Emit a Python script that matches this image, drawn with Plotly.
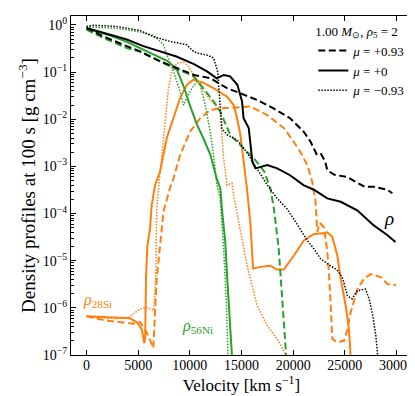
import plotly.graph_objects as go

# velocities in km/s, densities in g cm^-3
# total density rho
v_tot_p = [0, 1600, 3900, 5200, 7100, 9100, 10400, 12000, 13000, 13600, 14900, 16500, 18100, 19700,
           21000, 21700, 22300, 22700, 23100, 23300, 24000, 25200, 26900, 27800, 29100, 29600]
rho_tot_p = [0.861, 0.575, 0.355, 0.275, 0.170, 0.112, 0.0871, 0.0741, 0.0562, 0.0457, 0.0355, 0.0257,
             0.0170, 0.0105, 5.5e-3, 3.3e-3, 1.74e-3, 1.82e-3, 1.26e-3, 8.3e-4, 6.6e-4, 6.0e-4,
             3.7e-4, 3.7e-4, 3.2e-4, 2.7e-4]

v_tot_0 = [0, 1600, 3900, 5500, 7100, 8700, 10400, 11700, 12600, 13300, 13900, 14600, 15050, 15200,
           15700, 15900, 16050, 16350, 17500, 18450, 19700, 21000, 22000, 23300, 24600, 26200, 27800,
           29100, 29900]
rho_tot_0 = [0.861, 0.676, 0.490, 0.355, 0.275, 0.214, 0.148, 0.102, 0.0741, 0.0871, 0.0813, 0.0537,
             0.0240, 0.0105, 6.5e-3, 2.8e-3, 1.26e-3, 9.1e-4, 1.07e-3, 9.1e-4, 6.5e-4, 4.0e-4, 3.2e-4,
             2.1e-4, 1.78e-4, 1.17e-4, 5.6e-5, 3.5e-5, 2.5e-5]

v_tot_m = [0, 700, 2900, 5200, 6500, 8100, 9700, 10400, 11000, 11700, 12300, 12700, 12900, 13100,
           13600, 14600, 15500, 16500, 17500, 18450, 19400, 20300, 21360, 22000, 22650, 23300, 24300,
           24800, 25250, 25700, 26200, 27000, 27350, 27700, 28000, 28200]
rho_tot_m = [0.933, 0.986, 0.933, 0.759, 0.562, 0.447, 0.380, 0.269, 0.245, 0.229, 0.200, 0.100,
             0.0251, 6.3e-3, 4.7e-3, 3.6e-3, 2.0e-3, 9.1e-4, 4.0e-4, 2.1e-4, 1.26e-4, 6.3e-5, 2.7e-5,
             1.8e-5, 1.1e-5, 8.7e-6, 6.2e-6, 4.2e-6, 1.8e-6, 1.55e-6, 2.3e-6, 2.5e-6, 1.55e-6, 6.9e-7,
             2.6e-7, 8.9e-8]

# 56Ni
v_ni_p = [0, 1600, 3900, 5200, 7100, 8400, 9700, 10400, 11300, 12300, 12950, 13900, 15200, 16200,
          17200, 17800, 18130, 18600, 18940, 19260, 19350]
rho_ni_p = [0.794, 0.537, 0.324, 0.269, 0.170, 0.123, 0.0955, 0.0794, 0.0457, 0.0240, 0.0145, 4.7e-3,
            2.4e-3, 1.48e-3, 7.8e-4, 3.4e-4, 1.29e-4, 1.82e-5, 1.55e-6, 1.58e-7, 7.9e-8]

v_ni_0 = [0, 2250, 3900, 5800, 7800, 8700, 9400, 10000, 10700, 11300, 12000, 12600, 12950, 13100,
          13430, 13600, 13760, 13900, 14100]
rho_ni_0 = [0.832, 0.603, 0.437, 0.282, 0.174, 0.120, 0.0501, 0.0200, 7.6e-3, 4.0e-3, 1.74e-3, 5.5e-4,
            3.4e-4, 1.26e-4, 2.5e-5, 5.0e-6, 1.55e-6, 5.0e-7, 7.9e-8]

v_ni_m = [0, 2900, 5200, 6500, 6800, 7450, 7770, 8420, 9060, 9390, 9710, 10200, 10680, 11000, 11490,
          11970, 12300, 12620, 12940, 13270, 13520, 13660, 13700]
rho_ni_m = [0.912, 0.851, 0.708, 0.603, 0.525, 0.380, 0.234, 0.102, 0.0389, 0.0200, 0.0282, 0.0457,
            0.0631, 0.0537, 0.0200, 5.5e-3, 1.74e-3, 4.0e-4, 2.1e-4, 1.82e-5, 1.55e-6, 1.0e-7, 7.9e-8]

# 28Si
v_si_p = [0, 1900, 4500, 5180, 5830, 6310, 6470, 6630, 6800, 6960, 7120, 7450, 8090, 8420, 9060,
          10030, 11000, 11970, 12940, 14570, 15860, 17480, 19100, 20070, 20710, 21360, 21850, 22170,
          22330, 22600, 23000, 23300, 23460, 23630, 23790, 24270, 24920, 25250, 25570, 26220, 26870,
          27510, 28480, 29130, 29940]
rho_si_p = [6.6e-7, 5.4e-7, 4.6e-7, 5.0e-7, 3.0e-7, 1.58e-7, 1.41e-7, 8.1e-7, 4.2e-6, 9.3e-6, 2.1e-5,
            1.1e-4, 3.55e-4, 5.6e-4, 1.74e-3, 5.5e-3, 0.0105, 0.0158, 0.0170, 0.0178, 0.0186, 0.0123,
            6.5e-3, 3.3e-3, 2.0e-3, 1.07e-3, 4.7e-4, 1.78e-4, 4.1e-5, 6.3e-5, 5.0e-5, 1.58e-5, 5.8e-6,
            1.12e-6, 2.2e-7, 1.86e-7, 2.0e-7, 3.5e-7, 8.1e-7, 2.5e-6, 4.2e-6, 5.2e-6, 4.5e-6, 3.2e-6,
            3.0e-6]

v_si_0 = [0, 1900, 4200, 4850, 5340, 5600, 5680, 5760, 5890, 6150, 6310, 6630, 7120, 7770, 8420, 9060,
          9710, 10360, 11330, 12300, 13270, 13600, 14240, 14570, 14890, 15210, 15540, 15860, 16120,
          16830, 17800, 18450, 19100, 20070, 21040, 22010, 22980, 23300, 23790, 24270, 24600, 25080,
          25400, 25570]
rho_si_0 = [6.6e-7, 6.3e-7, 6.0e-7, 5.0e-7, 3.55e-7, 1.78e-7, 2.5e-7, 4.2e-6, 2.1e-5, 4.8e-5, 1.51e-4,
            4.0e-4, 7.8e-4, 4.0e-3, 0.0105, 0.0282, 0.0537, 0.0692, 0.0589, 0.0457, 0.0331, 0.0302,
            0.0200, 0.0105, 4.7e-3, 1.26e-3, 3.2e-4, 6.3e-5, 6.8e-6, 7.4e-6, 7.8e-6, 6.5e-6, 6.5e-6,
            1.29e-5, 2.7e-5, 3.7e-5, 3.8e-5, 4.0e-5, 3.2e-5, 1.29e-5, 4.2e-6, 1.12e-6, 3.5e-7, 8.9e-8]

v_si_m = [0, 2900, 4200, 4530, 5180, 5830, 6500, 6700, 6750, 6800, 7000, 7280, 7600, 7930, 8250, 8740,
          9390, 9870, 10500, 11200, 12000, 12700, 12940, 13110, 13270, 13600, 14080, 14240, 14400,
          14890, 15540, 16510, 17480, 18450, 19260]
rho_si_m = [6.6e-7, 5.9e-7, 6.3e-7, 7.4e-7, 9.5e-7, 1.02e-6, 8.9e-7, 4.0e-6, 3.2e-5, 1.26e-4, 4.0e-4,
            1.74e-3, 8.9e-3, 0.0457, 0.102, 0.155, 0.162, 0.132, 0.0794, 0.0447, 0.0251, 0.0178,
            0.0145, 4.7e-3, 1.48e-3, 4.0e-4, 4.4e-4, 2.45e-4, 1.58e-4, 4.1e-5, 7.9e-6, 1.12e-6,
            4.2e-7, 2.2e-7, 1.05e-7]

x_ticks = [0, 5000, 10000, 15000, 20000, 25000, 30000]
x_ticktext = ['0', '5000', '10000', '15000', '20000', '25000', '30000']
y_ticks = [1e-7, 1e-6, 1e-5, 1e-4, 1e-3, 1e-2, 1e-1, 1]
y_ticktext = ['10<sup>\u22127</sup>', '10<sup>\u22126</sup>', '10<sup>\u22125</sup>', '10<sup>\u22124</sup>',
              '10<sup>\u22123</sup>', '10<sup>\u22122</sup>', '10<sup>\u22121</sup>', '10<sup>0</sup>']

BLACK = 'black'
GREEN = '#2ca02c'
ORANGE = '#ff7f0e'
DASH = '7px,3.5px'
DOT = '1.5px,1.5px'
FONT = 'Liberation Serif'

fig = go.Figure()

series = [
    (v_si_p, rho_si_p, ORANGE, DASH, 2, None),
    (v_si_0, rho_si_0, ORANGE, 'solid', 2, None),
    (v_si_m, rho_si_m, ORANGE, DOT, 1.5, None),
    (v_ni_p, rho_ni_p, GREEN, DASH, 2, None),
    (v_ni_0, rho_ni_0, GREEN, 'solid', 2, None),
    (v_ni_m, rho_ni_m, GREEN, DOT, 1.5, None),
    (v_tot_p, rho_tot_p, BLACK, DASH, 2, '<i>\u03bc</i> = +0.93'),
    (v_tot_0, rho_tot_0, BLACK, 'solid', 2, '<i>\u03bc</i> = +0'),
    (v_tot_m, rho_tot_m, BLACK, DOT, 1.5, '<i>\u03bc</i> = \u22120.93'),
]
for xs, ys, col, dash, w, name in series:
    fig.add_trace(go.Scatter(
        x=xs, y=ys, mode='lines', name=name or '',
        line=dict(color=col, dash=dash, width=w),
        showlegend=name is not None
    ))

# curve labels
fig.add_annotation(x=29300, y=-4.1, text='<i>\u03c1</i>', showarrow=False,
                   font=dict(family=FONT, size=19, color=BLACK), xanchor='center', yanchor='middle')
fig.add_annotation(x=-500, y=-5.85, text='<i>\u03c1</i><sub>28Si</sub>', showarrow=False,
                   font=dict(family=FONT, size=16, color=ORANGE), xanchor='left', yanchor='middle')
fig.add_annotation(x=9000, y=-6.4, text='<i>\u03c1</i><sub>56Ni</sub>', showarrow=False,
                   font=dict(family=FONT, size=16, color=GREEN), xanchor='left', yanchor='middle')

axis_common = dict(showline=True, linecolor='black', linewidth=1.2, mirror='ticks', ticks='inside',
                   tickcolor='black', tickwidth=1, showgrid=False, zeroline=False,
                   tickfont=dict(family=FONT, size=14, color='black'))

fig.update_layout(
    width=415, height=396,
    margin=dict(l=63, r=11, t=8, b=49),
    plot_bgcolor='white', paper_bgcolor='white',
    font=dict(family=FONT, size=13, color='black'),
    xaxis=dict(range=[-1500, 31500], tickvals=x_ticks, ticktext=x_ticktext, ticklen=5,
               ticklabelstandoff=-3,
               title=dict(text='Velocity [km s<sup>\u22121</sup>]', font=dict(size=17), standoff=0),
               **axis_common),
    yaxis=dict(type='log', range=[-7, 0.19], tickvals=y_ticks, ticktext=y_ticktext, ticklen=5,
               minor=dict(ticks='inside', ticklen=2.5, dtick='D1', tickcolor='black', showgrid=False),
               title=dict(text='Density profiles at 100 s [g cm<sup>\u22123</sup>]', font=dict(size=19), standoff=2),
               **axis_common),
    legend=dict(x=0.995, y=0.992, xanchor='right', yanchor='top', bgcolor='rgba(0,0,0,0)',
                font=dict(family=FONT, size=13), tracegroupgap=0, itemwidth=30,
                title=dict(text='1.00 <i>M</i><sub>\u2299</sub>, <i>\u03c1</i><sub>5</sub> = 2',
                           font=dict(family=FONT, size=13))),
    showlegend=True,
)

fig.write_html('out.html')
